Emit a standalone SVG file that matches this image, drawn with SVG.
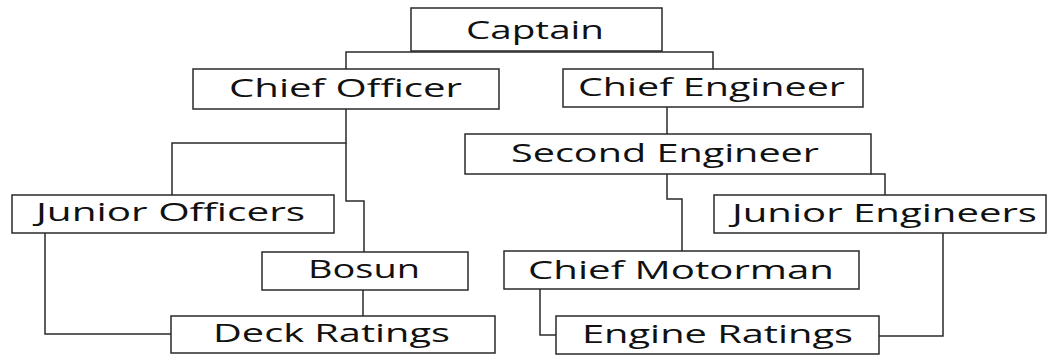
<svg xmlns="http://www.w3.org/2000/svg" width="1048" height="356" viewBox="0 0 1048 356">
<style>
.box{fill:#fff;stroke:#2a2a2a;stroke-width:1.5}
.lbl{font-family:"Open Sans","Noto Sans",sans-serif;font-size:25px;fill:#111}
.con{fill:none;stroke:#2a2a2a;stroke-width:1.5}
</style>
<rect width="1048" height="356" fill="#fff"/>
<g id="connectors">
<path class="con" d="M346,69 V52 H713 V69"/>
<path class="con" d="M346,109 V143 H172 V195"/>
<path class="con" d="M346,143 V201 H364 V252"/>
<path class="con" d="M363,290 V316"/>
<path class="con" d="M45,233 V334 H171"/>
<path class="con" d="M667,107 V134"/>
<path class="con" d="M667,174 V199 H682 V251"/>
<path class="con" d="M871,174 H885 V195"/>
<path class="con" d="M540,289 V335 H556"/>
<path class="con" d="M943,233 V336 H879"/>
</g>
<g id="captain"><rect class="box" x="411" y="8" width="251" height="43"/><text class="lbl" x="466" y="39" textLength="138" lengthAdjust="spacingAndGlyphs">Captain</text></g>
<g id="chief-officer"><rect class="box" x="193" y="69" width="306" height="40"/><text class="lbl" x="229" y="97" textLength="233" lengthAdjust="spacingAndGlyphs">Chief Officer</text></g>
<g id="chief-engineer"><rect class="box" x="563" y="69" width="300" height="38"/><text class="lbl" x="578" y="96" textLength="267" lengthAdjust="spacingAndGlyphs">Chief Engineer</text></g>
<g id="second-engineer"><rect class="box" x="465" y="134" width="406" height="40"/><text class="lbl" x="511" y="162" textLength="308" lengthAdjust="spacingAndGlyphs">Second Engineer</text></g>
<g id="junior-officers"><rect class="box" x="12" y="195" width="322" height="38"/><text class="lbl" x="36" y="221" textLength="269" lengthAdjust="spacingAndGlyphs">Junior Officers</text></g>
<g id="junior-engineers"><rect class="box" x="714" y="195" width="332" height="38"/><text class="lbl" x="732" y="222" textLength="305" lengthAdjust="spacingAndGlyphs">Junior Engineers</text></g>
<g id="bosun"><rect class="box" x="262" y="252" width="206" height="38"/><text class="lbl" x="308" y="278" textLength="112" lengthAdjust="spacingAndGlyphs">Bosun</text></g>
<g id="chief-motorman"><rect class="box" x="504" y="251" width="355" height="38"/><text class="lbl" x="528" y="279" textLength="306" lengthAdjust="spacingAndGlyphs">Chief Motorman</text></g>
<g id="deck-ratings"><rect class="box" x="171" y="316" width="324" height="37"/><text class="lbl" x="213" y="342" textLength="237" lengthAdjust="spacingAndGlyphs">Deck Ratings</text></g>
<g id="engine-ratings"><rect class="box" x="556" y="316" width="323" height="38"/><text class="lbl" x="582" y="343" textLength="271" lengthAdjust="spacingAndGlyphs">Engine Ratings</text></g>
</svg>
